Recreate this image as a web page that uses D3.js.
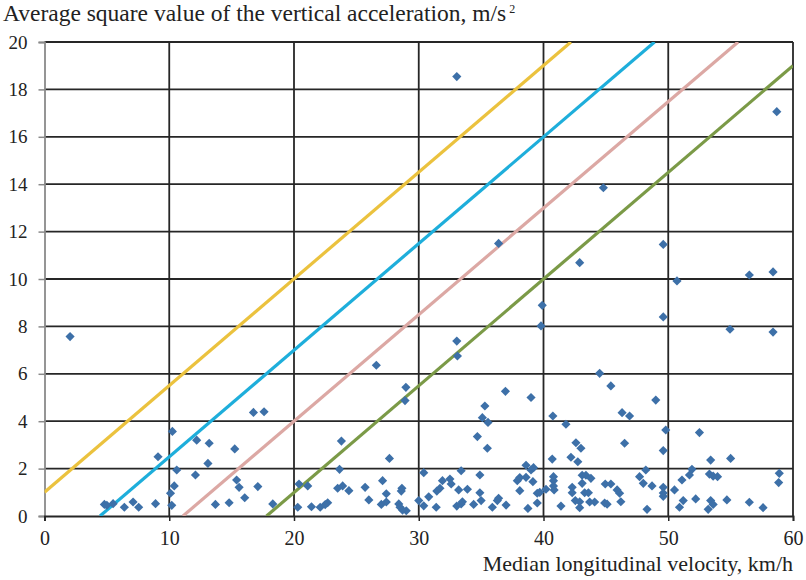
<!DOCTYPE html>
<html><head><meta charset="utf-8">
<script src="https://cdn.jsdelivr.net/npm/d3@7"></script>
<style>body{margin:0;background:#fff}svg{display:block}text{font-family:"Liberation Serif","Times New Roman",serif;fill:#222}</style>
</head><body><svg id="c" width="806" height="580"></svg>
<script>
// ---- data ----
const xTicks = [0, 10, 20, 30, 40, 50, 60];
const yTicks = [0, 2, 4, 6, 8, 10, 12, 14, 16, 18, 20];
const speedX = [2.05,4.8,5.5,5.0,6.4,7.1,7.55,8.9,9.1,10.25,10.1,10.4,10.6,10.2,12.2,12.1,13.2,13.1,13.7,14.8,15.25,15.4,15.6,16.05,16.75,17.6,17.1,18.3,
20.4,21.1,20.3,21.4,22.1,22.7,22.5,23.8,23.65,23.5,23.9,24.4,25.7,26.0,27.1,27.4,27.0,27.4,27.65,28.4,28.65,28.6,28.5,29.0,28.7,28.97,28.9,26.6,
30.4,30.0,30.4,30.8,31.4,31.45,31.7,31.9,32.5,32.6,33.2,33.4,33.9,33.05,33.4,33.5,34.4,34.9,34.9,35.0,34.7,35.3,35.1,35.55,35.5,35.9,36.3,36.4,37.0,36.95,
37.9,38.1,38.6,38.6,39.0,39.2,39.15,38.75,39.0,39.5,39.5,38.1,39.7,33.05,33.05,33.1,36.4,39.9,39.8,
40.75,41.8,40.7,40.2,40.8,40.8,40.8,40.85,41.4,42.6,43.0,42.2,42.75,42.3,42.3,42.55,42.9,42.9,43.1,43.4,43.1,43.3,43.6,43.8,43.7,44.1,44.95,45.4,44.9,45.1,45.4,
45.9,46.1,46.2,46.3,46.9,46.5,47.7,48.0,48.2,48.7,48.3,49.0,49.6,49.8,49.6,49.6,49.6,44.5,44.8,42.9,49.6,49.6,
50.5,51.1,50.9,51.2,51.7,51.9,52.2,52.5,53.4,53.3,53.6,53.95,53.4,53.6,53.2,54.7,55.0,56.5,57.6,58.9,58.85,50.7,56.5,58.4,54.95,58.4,58.7];
const accelY = [7.57,0.49,0.52,0.45,0.37,0.59,0.37,0.52,2.5,3.57,0.96,1.27,1.94,0.45,3.2,1.73,3.07,2.22,0.49,0.56,2.83,1.52,1.21,0.77,4.37,4.4,1.24,0.51,
1.35,1.27,0.37,0.39,0.37,0.56,0.48,3.16,1.97,1.17,1.27,1.07,1.21,0.68,1.49,0.94,0.49,0.59,2.43,0.51,1.17,1.05,0.37,0.22,0.25,5.43,4.87,6.36,
1.83,0.65,0.43,0.81,0.37,1.05,1.17,1.49,1.56,1.35,1.1,1.91,1.13,0.42,0.51,0.6,0.49,1.73,0.98,0.65,3.35,4.64,4.15,3.95,2.86,0.37,0.65,0.75,0.46,5.26,
1.49,1.07,1.63,2.14,1.94,2.04,1.45,0.32,5.0,0.96,0.55,1.62,1.0,18.54,7.38,6.75,11.5,8.89,8.02,
4.22,3.87,2.4,1.13,1.66,1.49,1.27,1.1,0.42,3.09,2.86,2.48,2.29,1.21,0.98,0.65,0.6,0.35,1.72,1.72,1.38,0.98,0.98,1.59,0.59,0.59,1.35,1.35,0.55,0.5,5.49,
1.1,0.96,0.6,4.36,4.22,3.07,1.66,1.38,1.94,1.27,0.28,4.89,2.76,3.63,1.21,0.97,0.83,6.02,13.85,10.69,11.46,8.4,
1.1,1.52,0.37,0.65,1.73,1.97,0.72,3.52,2.36,1.77,1.68,1.66,0.65,0.49,0.28,0.68,2.43,0.58,0.35,1.8,1.41,9.92,10.17,10.3,7.88,7.76,17.06];
// reference lines: start and end points
const lineNames  = ["yellow", "blue", "pink", "green"];
const lineStartX = [0, 4.45, 11.1, 17.8];
const lineStartY = [1, 0, 0, 0];
const lineEndX   = [42.2, 48.9, 55.6, 60];
const lineEndY   = [20, 20, 20, 19];
const lineColors = ["#ebc23e", "#1eaedb", "#dca8a4", "#7b9a47"];
const title = "Average square value of the vertical acceleration, m/s";
const xTitle = "Median longitudinal velocity, km/h";

// ---- drawing ----
const svg = d3.select("#c");
const L = 44.5, R = 793, T = 42, B = 516;
const x = d3.scaleLinear().domain([0, 60]).range([L, R]);
const y = d3.scaleLinear().domain([0, 20]).range([B, T]);

// grid
svg.append("g").selectAll("line").data(yTicks.filter(d => d > 0)).join("line")
  .attr("x1", L).attr("x2", R).attr("y1", d => y(d)).attr("y2", d => y(d))
  .attr("stroke", "#262626").attr("stroke-width", 1.8);
svg.append("g").selectAll("line").data(xTicks.filter(d => d > 0)).join("line")
  .attr("y1", T).attr("y2", B).attr("x1", d => x(d)).attr("x2", d => x(d))
  .attr("stroke", "#262626").attr("stroke-width", 1.8);

// y axis (grey)
const yAxis = svg.append("g").attr("transform", `translate(${L},0)`)
  .call(d3.axisLeft(y).tickValues(yTicks).tickSize(6).tickPadding(11));
yAxis.select(".domain").attr("stroke", "#8a8a8a").attr("stroke-width", 1.8);
yAxis.selectAll(".tick line").attr("stroke", "#8a8a8a").attr("stroke-width", 1.5);
yAxis.selectAll("text").style("font-size", "19px").attr("fill", "#222").style("font-family", '"Liberation Serif",serif');

// x axis
const xAxis = svg.append("g").attr("transform", `translate(0,${B})`)
  .call(d3.axisBottom(x).tickValues(xTicks).tickSize(5).tickPadding(10));
xAxis.select(".domain").attr("stroke", "#262626").attr("stroke-width", 1.8);
xAxis.selectAll(".tick line").attr("stroke", "#262626").attr("stroke-width", 1.5);
xAxis.selectAll("text").style("font-size", "20px").attr("fill", "#222").style("font-family", '"Liberation Serif",serif');

// clip
svg.append("clipPath").attr("id", "clip").append("rect")
  .attr("x", L).attr("y", T).attr("width", R - L).attr("height", B - T);

// reference lines
svg.append("g").attr("clip-path", "url(#clip)").selectAll("line").data(lineNames).join("line")
  .attr("x1", (d, i) => x(lineStartX[i])).attr("y1", (d, i) => y(lineStartY[i]))
  .attr("x2", (d, i) => x(lineEndX[i])).attr("y2", (d, i) => y(lineEndY[i]))
  .attr("stroke", (d, i) => lineColors[i]).attr("stroke-width", 3.2);

// points (rotated squares = diamonds)
const pts = speedX.map((v, i) => [v, accelY[i]]);
svg.append("g").selectAll("path").data(pts).join("path")
  .attr("d", d3.symbol(d3.symbolSquare, 42))
  .attr("transform", d => `translate(${x(d[0])},${y(d[1])}) rotate(45)`)
  .attr("fill", "#3d70a8");

// titles
const t = svg.append("text").attr("x", 3).attr("y", 21).style("font-size", "23.5px");
t.append("tspan").text(title);
t.append("tspan").attr("dx", 3).attr("dy", -8).style("font-size", "12px").text("2");
svg.append("text").attr("x", R).attr("y", 571).attr("text-anchor", "end").style("font-size", "22px").text(xTitle);
</script></body></html>
